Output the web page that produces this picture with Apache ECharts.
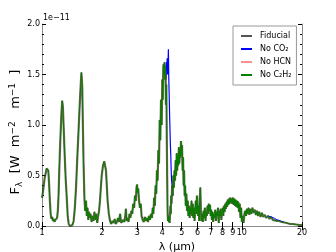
<!DOCTYPE html>
<html>
<head>
<meta charset="utf-8">
<script src="https://cdn.jsdelivr.net/npm/echarts@6/dist/echarts.min.js"></script>
<style>
html,body{margin:0;padding:0;background:#fff;}
#c{width:336px;height:252px;}
</style>
</head>
<body>
<div id="c"></div>
<script>
// ---- data (flux in units of 1e-11) ----
const seriesNames = ['Fiducial', 'No CO\u2082', 'No HCN', 'No C\u2082H\u2082'];
const xTickValues = [1, 2, 3, 4, 5, 6, 7, 8, 9, 10, 20];
const yTickStep = 0.5;
const yMax = 2.0;

const wavelength = [
1.00,1.01,1.02,1.03,1.045,1.055,1.065,1.075,1.085,1.095,1.105,1.115,1.125,1.135,1.145,1.155,1.165,1.175,1.19,1.20,
1.21,1.22,1.235,1.25,1.262,1.272,1.285,1.30,1.315,1.33,1.345,1.36,1.38,1.40,1.42,1.44,1.46,1.48,1.50,1.52,
1.54,1.56,1.575,1.59,1.60,1.615,1.63,1.645,1.66,1.675,1.69,1.705,1.72,1.735,1.75,1.77,1.79,1.81,1.83,1.85,
1.87,1.89,1.91,1.93,1.95,1.97,1.99,2.02,2.05,2.07,2.09,2.11,2.13,2.16,2.19,2.22,2.25,2.28,2.31,2.34,
2.37,2.40,2.43,2.46,2.49,2.52,2.55,2.58,2.61,2.63,2.65,2.68,2.71,2.74,2.77,2.80,2.83,2.86,2.89,2.92,
2.95,2.97,2.99,3.01,3.03,3.06,3.09,3.12,3.15,3.19,3.23,3.27,3.31,3.35,3.39,3.43,3.47,3.51,3.55,3.58,
3.61,3.64,3.67,3.70,3.73,3.76,3.79,3.82,3.85,3.88,3.91,3.94,3.97,4.00,4.02,4.05,4.08,4.10,4.13,4.15,
4.17,4.19,4.21,4.23,4.25,4.27,4.29,4.31,4.33,4.35,4.37,4.39,4.41,4.43,4.45,4.48,4.51,4.54,4.57,4.60,
4.63,4.66,4.69,4.72,4.75,4.78,4.81,4.84,4.87,4.90,4.93,4.96,4.99,5.02,5.05,5.08,5.11,5.14,5.17,5.20,
5.24,5.28,5.32,5.36,5.40,5.44,5.48,5.52,5.56,5.60,5.64,5.68,5.72,5.76,5.80,5.84,5.88,5.92,5.96,6.00,
6.04,6.08,6.12,6.16,6.20,6.24,6.28,6.33,6.38,6.43,6.48,6.53,6.58,6.63,6.68,6.73,6.78,6.83,6.88,6.93,
6.98,7.03,7.08,7.13,7.18,7.24,7.30,7.36,7.42,7.48,7.54,7.60,7.66,7.72,7.78,7.84,7.90,7.96,8.02,8.08,
8.14,8.20,8.26,8.32,8.38,8.44,8.50,8.56,8.62,8.68,8.75,8.82,8.89,8.96,9.03,9.10,9.17,9.24,9.31,9.38,
9.45,9.52,9.60,9.68,9.76,9.84,9.92,10.00,10.10,10.20,10.30,10.40,10.50,10.60,10.70,10.80,10.90,11.00,11.15,11.30,
11.45,11.60,11.75,11.90,12.05,12.20,12.40,12.60,12.80,13.00,13.25,13.50,13.75,14.00,14.30,14.60,15.00,15.40,15.80,16.30,
16.80,17.40,18.00,18.70,19.40,20.00
];
const fiducialFlux = [
0.28,0.33,0.40,0.47,0.53,0.57,0.58,0.55,0.42,0.25,0.12,0.07,0.09,0.05,0.07,0.04,0.06,0.05,0.08,0.15,
0.30,0.55,0.85,1.10,1.24,1.18,0.95,0.68,0.45,0.28,0.10,0.02,0.00,0.00,0.01,0.05,0.18,0.38,0.65,0.90,
1.15,1.38,1.52,1.38,1.05,0.60,0.28,0.15,0.25,0.10,0.18,0.06,0.14,0.08,0.12,0.04,0.10,0.05,0.14,0.06,
0.12,0.03,0.10,0.15,0.25,0.38,0.50,0.60,0.64,0.63,0.55,0.40,0.25,0.12,0.05,0.02,0.05,0.03,0.07,0.02,
0.04,0.08,0.04,0.12,0.03,0.02,0.06,0.04,0.10,0.17,0.05,0.08,0.04,0.12,0.08,0.15,0.12,0.22,0.18,0.30,
0.25,0.38,0.41,0.33,0.37,0.25,0.18,0.22,0.10,0.06,0.04,0.09,0.05,0.08,0.04,0.10,0.06,0.12,0.08,0.18,
0.12,0.28,0.20,0.40,0.32,0.55,0.45,0.75,0.62,1.05,0.85,1.25,1.00,1.45,1.25,1.60,1.50,1.62,1.45,1.58,
1.20,1.40,0.90,0.50,0.15,0.05,0.10,0.04,0.08,0.03,0.10,0.20,0.12,0.30,0.22,0.40,0.30,0.50,0.38,0.55,
0.45,0.65,0.50,0.72,0.55,0.70,0.60,0.78,0.62,0.75,0.68,0.84,0.70,0.80,0.55,0.68,0.40,0.55,0.30,0.40,
0.20,0.32,0.15,0.25,0.10,0.20,0.08,0.18,0.12,0.25,0.10,0.22,0.08,0.18,0.05,0.15,0.25,0.12,0.30,0.18,
0.10,0.20,0.05,0.28,0.38,0.15,0.05,0.12,0.04,0.15,0.08,0.18,0.05,0.14,0.10,0.20,0.12,0.22,0.15,0.21,
0.10,0.16,0.06,0.14,0.04,0.12,0.08,0.16,0.05,0.14,0.10,0.18,0.03,0.15,0.10,0.17,0.06,0.14,0.18,0.10,
0.20,0.14,0.22,0.17,0.24,0.19,0.26,0.21,0.27,0.22,0.28,0.23,0.27,0.22,0.28,0.21,0.27,0.20,0.26,0.19,
0.25,0.18,0.24,0.14,0.22,0.08,0.18,0.04,0.10,0.03,0.12,0.15,0.10,0.17,0.12,0.18,0.11,0.17,0.12,0.18,
0.13,0.16,0.11,0.15,0.10,0.14,0.09,0.13,0.09,0.11,0.08,0.10,0.07,0.09,0.06,0.07,0.05,0.05,0.04,0.035,
0.03,0.02,0.02,0.015,0.01,0.01
];
// No HCN and No C2H2 cannot be told apart from Fiducial in the picture
const noHCNFlux = fiducialFlux;
const noC2H2Flux = fiducialFlux;

// No CO2: only where it departs visibly from the others
const noCO2BandLam  = [4.15,4.17,4.19,4.21,4.23,4.25,4.27,4.29,4.31,4.33,4.35,4.37,4.39,4.41,4.43,4.45,4.48,4.51];
const noCO2BandFlux = [1.58,1.45,1.62,1.55,1.66,1.50,1.60,1.75,1.45,1.30,1.10,0.95,0.80,0.70,0.55,0.45,0.40,0.30];
const noCO2TailLam  = [13.5,14.0,14.6,15.0,15.4,15.8,16.3];
const noCO2TailFlux = [0.10,0.09,0.075,0.06,0.055,0.045,0.038];

const pairs = (xs, ys) => xs.map((x, i) => [x, ys[i]]);

const axisGray = '#8c8c8c';
const chart = echarts.init(document.getElementById('c'), null, {renderer: 'canvas'});
const lineBase = {type: 'line', showSymbol: false, symbol: 'none', animation: false, silent: true, xAxisIndex: 0, yAxisIndex: 0};

chart.setOption({
  animation: false,
  backgroundColor: '#fff',
  textStyle: {fontFamily: 'DejaVu Sans'},
  grid: {left: 42, right: 34, top: 24, bottom: 26, containLabel: false, outerBoundsMode: 'none'},
  graphic: [{type: 'text', left: 43, top: 14, style: {text: '1e\u221211', fontSize: 8, fontFamily: 'DejaVu Sans', fill: '#000'}}],
  legend: {
    orient: 'vertical', left: 233, top: 26,
    padding: [5, 5, 5, 8], itemGap: 3, itemWidth: 11, itemHeight: 2,
    backgroundColor: '#fff', borderColor: '#999', borderWidth: 1,
    textStyle: {fontSize: 8, fontFamily: 'DejaVu Sans', color: '#000', lineHeight: 10, padding: [0, 0, 0, 3]},
    data: [
      {name: seriesNames[0], icon: 'rect', itemStyle: {color: '#555'}},
      {name: seriesNames[1], icon: 'rect', itemStyle: {color: '#0000ff'}},
      {name: seriesNames[2], icon: 'rect', itemStyle: {color: '#ff9090'}},
      {name: seriesNames[3], icon: 'rect', itemStyle: {color: '#008000'}}
    ]
  },
  xAxis: [{
    type: 'log', logBase: 10, min: 1, max: 20, position: 'bottom',
    name: '\u03bb (\u03bcm)', nameLocation: 'middle', nameGap: 12,
    nameTextStyle: {fontSize: 11, color: '#000', fontFamily: 'DejaVu Sans', padding: [0, 0, 0, 10]},
    axisLine: {lineStyle: {color: axisGray, width: 1}},
    axisTick: {inside: true, length: 4, customValues: xTickValues, lineStyle: {color: '#000'}},
    axisLabel: {customValues: xTickValues, fontSize: 8, color: '#000', margin: 3, formatter: v => String(v)},
    splitLine: {show: false}, minorTick: {show: false}
  }, {
    type: 'log', logBase: 10, min: 1, max: 20, position: 'top',
    axisLine: {lineStyle: {color: axisGray, width: 1}},
    axisTick: {inside: true, length: 4, customValues: xTickValues, lineStyle: {color: '#000'}},
    axisLabel: {show: false}, splitLine: {show: false}
  }],
  yAxis: [{
    type: 'value', min: 0, max: yMax, interval: yTickStep, position: 'left',
    name: '{a|F}{s|\u03bb}{a|  [W  m}{p|\u22122}{a|   m}{p|\u22121}{a|  ]}',
    nameLocation: 'middle', nameRotate: 90, nameGap: 18, nameMoveOverlap: false,
    nameTextStyle: {
      color: '#000', padding: [0, 14, 0, 0],
      rich: {
        a: {fontSize: 13, fontFamily: 'DejaVu Sans', lineHeight: 16, verticalAlign: 'middle'},
        s: {fontSize: 9, fontFamily: 'DejaVu Sans', lineHeight: 9, verticalAlign: 'bottom'},
        p: {fontSize: 9, fontFamily: 'DejaVu Sans', lineHeight: 9, verticalAlign: 'top'}
      }
    },
    axisLine: {show: true, lineStyle: {color: axisGray, width: 1}},
    axisTick: {show: true, inside: true, length: 4, lineStyle: {color: '#000'}},
    minorTick: {show: true, splitNumber: 5, length: 2, lineStyle: {color: '#000'}},
    axisLabel: {fontSize: 8, color: '#000', margin: 2, formatter: v => v.toFixed(1)},
    splitLine: {show: false}, minorSplitLine: {show: false}
  }, {
    type: 'value', min: 0, max: yMax, interval: yTickStep, position: 'right',
    axisLine: {show: true, lineStyle: {color: axisGray, width: 1}},
    axisTick: {show: true, inside: true, length: 4, lineStyle: {color: '#000'}},
    minorTick: {show: true, splitNumber: 5, length: 2, lineStyle: {color: '#000'}},
    axisLabel: {show: false}, splitLine: {show: false}
  }],
  series: [
    Object.assign({}, lineBase, {name: seriesNames[0], data: pairs(wavelength, fiducialFlux),
      lineStyle: {color: 'rgba(0,0,0,0.55)', width: 2.2}, itemStyle: {color: '#555'}, z: 2}),
    Object.assign({}, lineBase, {name: seriesNames[1], data: pairs(noCO2BandLam, noCO2BandFlux),
      lineStyle: {color: '#0000ff', width: 1.2}, itemStyle: {color: '#0000ff'}, z: 3}),
    Object.assign({}, lineBase, {name: seriesNames[1], data: pairs(noCO2TailLam, noCO2TailFlux),
      lineStyle: {color: '#0000ff', width: 1}, itemStyle: {color: '#0000ff'}, z: 3}),
    Object.assign({}, lineBase, {name: seriesNames[2], data: pairs(wavelength, noHCNFlux),
      lineStyle: {color: 'rgba(255,0,0,0.4)', width: 1}, itemStyle: {color: '#ff9090'}, z: 4}),
    Object.assign({}, lineBase, {name: seriesNames[3], data: pairs(wavelength, noC2H2Flux),
      lineStyle: {color: '#008000', width: 1}, itemStyle: {color: '#008000'}, z: 5})
  ]
});
</script>
</body>
</html>
